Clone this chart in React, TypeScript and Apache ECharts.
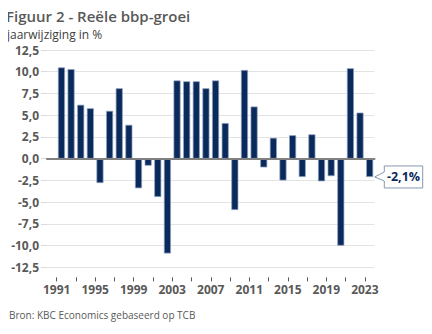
import React, { useEffect, useRef } from "react";
import * as echarts from "echarts";

const years: string[] = [
  "1991","1992","1993","1994","1995","1996","1997","1998","1999","2000",
  "2001","2002","2003","2004","2005","2006","2007","2008","2009","2010",
  "2011","2012","2013","2014","2015","2016","2017","2018","2019","2020",
  "2021","2022","2023",
];
const growth: number[] = [
  10.5, 10.3, 6.2, 5.8, -2.8, 5.5, 8.1, 3.9, -3.4, -0.8,
  -4.4, -10.9, 9.0, 8.9, 8.9, 8.1, 9.0, 4.1, -5.9, 10.2,
  6.0, -1.0, 2.4, -2.5, 2.7, -2.1, 2.8, -2.6, -2.0, -10.0,
  10.4, 5.3, -2.1,
];
const titleText = "Figuur 2 - Reële bbp-groei";
const subtitleText = "jaarwijziging in %";
const sourceText = "Bron: KBC Economics gebaseerd op TCB";
const calloutText = "-2,1%";

const FONT = "'Open Sans', 'Noto Sans', sans-serif";
const NAVY = "#0b2a5c";
const GREY = "#595959";

export default function App() {
  const ref = useRef<HTMLDivElement>(null);
  useEffect(() => {
    if (!ref.current) return;
    const chart = echarts.init(ref.current, null, { renderer: "svg" });
    const bandCats = ["1990", ...years];
    const bandData = [null, ...growth];
    const boundaryCats = Array.from({ length: bandCats.length + 1 }, (_, k) => String(1990 + k));
    chart.setOption({
      animation: false,
      textStyle: { fontFamily: FONT },
      grid: { left: 47, right: 57.5, top: 50, bottom: 66.6, containLabel: false },
      title: [
        {
          text: titleText,
          left: 6,
          top: 7,
          padding: 0,
          textStyle: { fontSize: 15, lineHeight: 18, fontWeight: 600, color: GREY, fontFamily: FONT },
        },
        {
          text: subtitleText,
          left: 7,
          top: 27,
          padding: 0,
          textStyle: { fontSize: 12, lineHeight: 14, fontWeight: "normal", color: "#404040", fontFamily: FONT },
        },
        {
          text: sourceText,
          left: 9,
          top: 309,
          padding: 0,
          textStyle: { fontSize: 10, lineHeight: 12, fontWeight: "normal", color: GREY, fontFamily: FONT },
        },
      ],
      xAxis: [
        {
          type: "category",
          data: bandCats,
          boundaryGap: true,
          position: "bottom",
          axisLine: { show: true, onZero: true, lineStyle: { color: "#808080", width: 2 } },
          axisTick: { show: false },
          axisLabel: { show: false },
          splitLine: { show: false },
          z: 5,
        },
        {
          type: "category",
          data: boundaryCats,
          boundaryGap: false,
          position: "bottom",
          offset: 10,
          axisLine: { show: false, onZero: false },
          axisTick: {
            show: true,
            length: 4,
            interval: (i: number) => i % 2 === 1,
            lineStyle: { color: GREY, width: 1 },
          },
          axisLabel: {
            show: true,
            interval: (i: number) => i % 4 === 1,
            color: GREY,
            fontWeight: "bold",
            fontSize: 12,
            fontFamily: FONT,
            margin: 6,
          },
          splitLine: { show: false },
        },
      ],
      yAxis: {
        type: "value",
        min: -12.5,
        max: 12.5,
        interval: 2.5,
        axisLine: { show: false },
        axisTick: { show: true, length: 6, lineStyle: { color: "#d9d9d9" } },
        axisLabel: {
          color: GREY,
          fontWeight: "bold",
          fontSize: 12,
          lineHeight: 13,
          fontFamily: FONT,
          margin: 8,
          formatter: (v: number) => v.toFixed(1).replace(".", ","),
        },
        splitLine: { show: true, lineStyle: { color: "#e3e3e3", width: 1 } },
      },
      series: [
        {
          type: "bar",
          xAxisIndex: 0,
          yAxisIndex: 0,
          data: bandData,
          barWidth: 7,
          itemStyle: { color: NAVY, borderColor: "#8fa2c0", borderWidth: 0.7 },
          z: 3,
        },
      ],
    });

    const lastIdx = bandCats.length - 1;
    const p = chart.convertToPixel({ xAxisIndex: 0, yAxisIndex: 0 }, [lastIdx, growth[growth.length - 1]]) as number[];
    const band = (chart.convertToPixel({ xAxisIndex: 0 }, 1) as number) - (chart.convertToPixel({ xAxisIndex: 0 }, 0) as number);
    const tipX = p[0] + band * 0.52;
    const tipY = p[1];
    const bx = tipX + 9.6;
    const bw = 38.4;
    const bh = 22;
    const top = tipY - bh / 2;
    const bot = tipY + bh / 2;
    chart.setOption({
      graphic: [
        {
          type: "polygon",
          shape: {
            points: [
              [tipX, tipY],
              [bx, tipY - 5],
              [bx, top],
              [bx + bw, top],
              [bx + bw, bot],
              [bx, bot],
              [bx, tipY + 4],
            ],
          },
          style: { fill: "#ffffff", stroke: "#8497b0", lineWidth: 1 },
          z: 10,
        },
        {
          type: "text",
          x: bx + bw / 2,
          y: tipY,
          style: {
            text: calloutText,
            fill: NAVY,
            font: `bold 12.5px ${FONT}`,
            align: "center",
            verticalAlign: "middle",
          },
          z: 11,
        },
      ],
    });
    return () => chart.dispose();
  }, []);
  return <div ref={ref} style={{ width: 432, height: 334, margin: -8 }} />;
}
